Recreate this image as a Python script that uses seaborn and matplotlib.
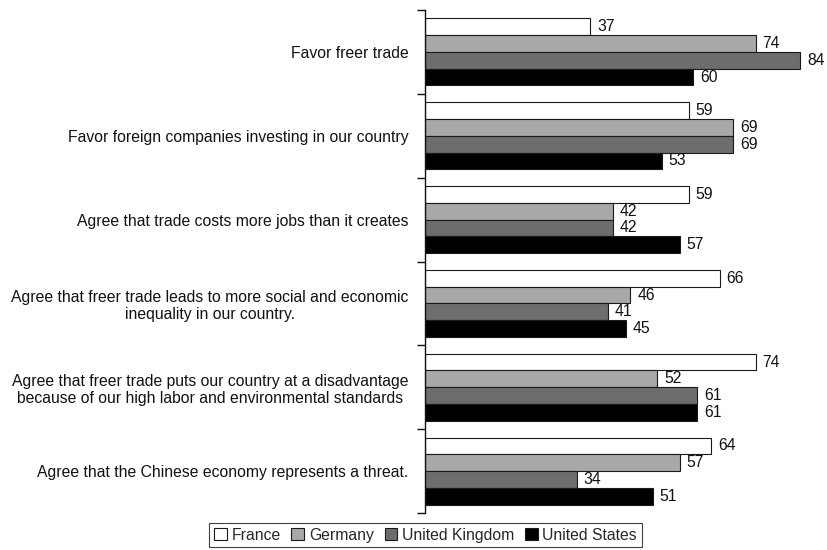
import matplotlib
matplotlib.use("Agg")
import matplotlib.pyplot as plt
import seaborn as sns
import pandas as pd

statements = [
    "Favor freer trade",
    "Favor foreign companies investing in our country",
    "Agree that trade costs more jobs than it creates",
    "Agree that freer trade leads to more social and economic\ninequality in our country.",
    "Agree that freer trade puts our country at a disadvantage\nbecause of our high labor and environmental standards",
    "Agree that the Chinese economy represents a threat.",
]
countries = ["France", "Germany", "United Kingdom", "United States"]
france = [37, 59, 59, 66, 74, 64]
germany = [74, 69, 42, 46, 52, 57]
united_kingdom = [84, 69, 42, 41, 61, 34]
united_states = [60, 53, 57, 45, 61, 51]

colors = ["#ffffff", "#a8a8aa", "#6d6d6f", "#000000"]

rows = []
for country, vals in zip(countries, [france, germany, united_kingdom, united_states]):
    for s, v in zip(statements, vals):
        rows.append({"statement": s, "country": country, "value": v})
df = pd.DataFrame(rows)

sns.set_style("white")
plt.rcParams["font.family"] = ["Liberation Sans", "DejaVu Sans"]
FS = 11.3

fig = plt.figure(figsize=(8.27, 5.5), dpi=100)
ax = fig.add_axes([425 / 827, 37 / 550, 402 / 827, 503 / 550])

sns.barplot(
    data=df, y="statement", x="value", hue="country",
    order=statements, hue_order=countries, palette=colors,
    orient="h", width=0.8, edgecolor="#1a1a1a", linewidth=0.8,
    saturation=1, ax=ax, legend=False,
)

for cont in ax.containers:
    ax.bar_label(cont, padding=5, fontsize=FS, color="#111111")

ax.set_xlim(0, 90)
ax.set_ylim(5.5, -0.5)
ax.set_xlabel("")
ax.set_ylabel("")
ax.set_xticks([])

for side in ["top", "right", "bottom"]:
    ax.spines[side].set_visible(False)
ax.spines["left"].set_color("#111111")
ax.spines["left"].set_linewidth(1.0)

ax.set_yticks(range(len(statements)))
ax.set_yticklabels(statements, fontsize=FS, multialignment="center", color="#111111")
ax.tick_params(axis="y", which="major", left=True, length=0, pad=12)
ax.set_yticks([i - 0.5 for i in range(len(statements) + 1)], minor=True)
ax.tick_params(axis="y", which="minor", left=True, length=6, width=1.0,
               color="#111111", direction="out")

handles = [plt.Rectangle((0, 0), 1, 1, facecolor=c, edgecolor="#1a1a1a", linewidth=0.8) for c in colors]
leg = fig.legend(
    handles, countries, loc="upper center", bbox_to_anchor=(425.5 / 827, 1 - 523 / 550),
    ncol=4, frameon=True, fancybox=False, fontsize=FS,
    handlelength=0.8, handleheight=0.8, handletextpad=0.3, columnspacing=0.7,
    borderpad=0.3, borderaxespad=0,
)
leg.get_frame().set_edgecolor("#111111")
leg.get_frame().set_linewidth(0.8)

fig.savefig("out.png", dpi=100)
